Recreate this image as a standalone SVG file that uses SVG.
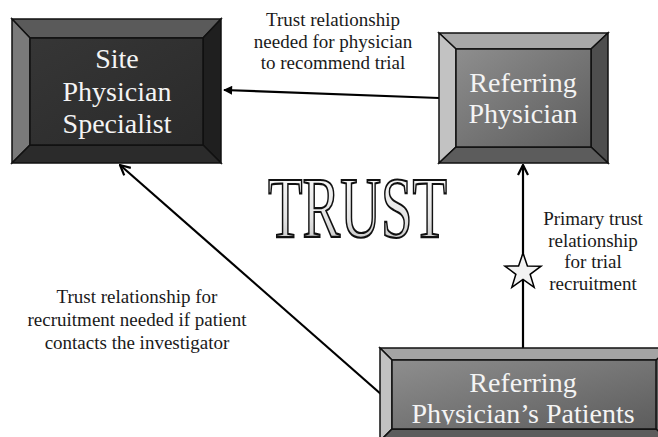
<svg xmlns="http://www.w3.org/2000/svg" width="658" height="437" viewBox="0 0 658 437">
<style>
.edge{stroke:#111;stroke-width:1.5;stroke-linejoin:miter}
.node-text{font-size:28px;fill:#f4f4f4;text-anchor:middle}
.label{font-size:19px;fill:#1a1a1a;text-anchor:middle}
.conn{stroke:#000;stroke-width:2.2;fill:none}
</style>
<defs>
<linearGradient id="faceDark" x1="0" y1="0" x2="1" y2="1">
<stop offset="0" stop-color="#363636"/><stop offset="1" stop-color="#2a2a2a"/>
</linearGradient>
<linearGradient id="faceLight" x1="0" y1="0" x2="1" y2="1">
<stop offset="0" stop-color="#8e8e8e"/><stop offset="1" stop-color="#5c5c5c"/>
</linearGradient>
<linearGradient id="trustFill" x1="0" y1="0" x2="0" y2="1">
<stop offset="0" stop-color="#ffffff"/><stop offset="0.6" stop-color="#e4e4e4"/><stop offset="1" stop-color="#b8b8b8"/>
</linearGradient>
<marker id="openArrow" viewBox="0 0 12 12" refX="11" refY="6" markerWidth="12" markerHeight="12" markerUnits="userSpaceOnUse" orient="auto">
<path d="M1,1 L11,6 L1,11" fill="none" stroke="#000" stroke-width="2.2"/>
</marker>
<marker id="solidArrow" viewBox="0 0 10 10" refX="9" refY="5" markerWidth="10" markerHeight="9" markerUnits="userSpaceOnUse" orient="auto">
<path d="M0,0 L10,5 L0,10 Z" fill="#000"/>
</marker>
<clipPath id="patClip"><rect x="380" y="348" width="290" height="76.5"/></clipPath>
</defs>

<g id="connectors">
<line class="conn" x1="439" y1="98" x2="224" y2="90" marker-end="url(#solidArrow)"/>
<line class="conn" x1="382" y1="395" x2="120" y2="165" marker-end="url(#openArrow)"/>
<line class="conn" x1="523" y1="348" x2="523" y2="165" marker-end="url(#openArrow)"/>
<polygon points="523,253 527.41,265.93 541.07,266.13 530.13,274.32 534.17,287.37 523,279.5 511.83,287.37 515.87,274.32 504.93,266.13 518.59,265.93" fill="#f2f2f2" stroke="#000" stroke-width="1.5" stroke-linejoin="miter"/>
</g>

<g id="site-physician-specialist" font-family="Liberation Serif, Times New Roman, serif">
<rect x="12" y="19" width="209" height="144" fill="#2a2a2a"/>
<polygon class="edge" points="12,19 221,19 203,38 30,38" fill="#5a5a5a"/>
<polygon class="edge" points="12,19 30,38 30,145 12,163" fill="#7a7a7a"/>
<polygon class="edge" points="221,19 221,163 203,145 203,38" fill="#1f1f1f"/>
<polygon class="edge" points="12,163 30,145 203,145 221,163" fill="#2b2b2b"/>
<rect class="edge" x="30" y="38" width="173" height="107" fill="url(#faceDark)"/>
<text class="node-text" x="117" y="68">Site</text>
<text class="node-text" x="117" y="101">Physician</text>
<text class="node-text" x="117" y="133">Specialist</text>
</g>

<g id="referring-physician" font-family="Liberation Serif, Times New Roman, serif">
<rect x="439" y="33" width="169" height="130" fill="#5a5a5a"/>
<polygon class="edge" points="439,33 608,33 591,49 456,49" fill="#a8a8a8"/>
<polygon class="edge" points="439,33 456,49 456,147 439,163" fill="#c2c2c2"/>
<polygon class="edge" points="608,33 608,163 591,147 591,49" fill="#4e4e4e"/>
<polygon class="edge" points="439,163 456,147 591,147 608,163" fill="#5c5c5c"/>
<rect class="edge" x="456" y="49" width="135" height="98" fill="url(#faceLight)"/>
<text class="node-text" x="523" y="92">Referring</text>
<text class="node-text" x="523" y="123">Physician</text>
</g>

<g id="referring-physicians-patients" font-family="Liberation Serif, Times New Roman, serif">
<rect x="380" y="348" width="290" height="95" fill="#5a5a5a"/>
<polygon class="edge" points="380,348 670,348 656,360 392,360" fill="#a4a4a4"/>
<polygon class="edge" points="380,348 392,360 392,429 380,441" fill="#c2c2c2"/>
<polygon class="edge" points="380,441 392,429 656,429 670,441" fill="#5c5c5c"/>
<rect class="edge" x="392" y="360" width="264" height="69" fill="url(#faceLight)"/>
<text class="node-text" x="523" y="392">Referring</text>
<text class="node-text" x="523" y="423" clip-path="url(#patClip)">Physician’s Patients</text>
</g>

<g id="labels" font-family="Liberation Serif, Times New Roman, serif">
<text class="label" x="333" y="26">Trust relationship</text>
<text class="label" x="333" y="48">needed for physician</text>
<text class="label" x="333" y="69">to recommend trial</text>
<text class="label" x="593" y="225">Primary trust</text>
<text class="label" x="593" y="247">relationship</text>
<text class="label" x="593" y="268">for trial</text>
<text class="label" x="593" y="290">recruitment</text>
<text class="label" x="137" y="303">Trust relationship for</text>
<text class="label" x="137" y="326">recruitment needed if patient</text>
<text class="label" x="137" y="349">contacts the investigator</text>
</g>

<g id="trust-title">
<text x="268" y="237" font-family="Liberation Serif, Times New Roman, serif" font-size="86" textLength="179" lengthAdjust="spacingAndGlyphs" fill="url(#trustFill)" stroke="#111" stroke-width="2.2">TRUST</text>
</g>
</svg>
